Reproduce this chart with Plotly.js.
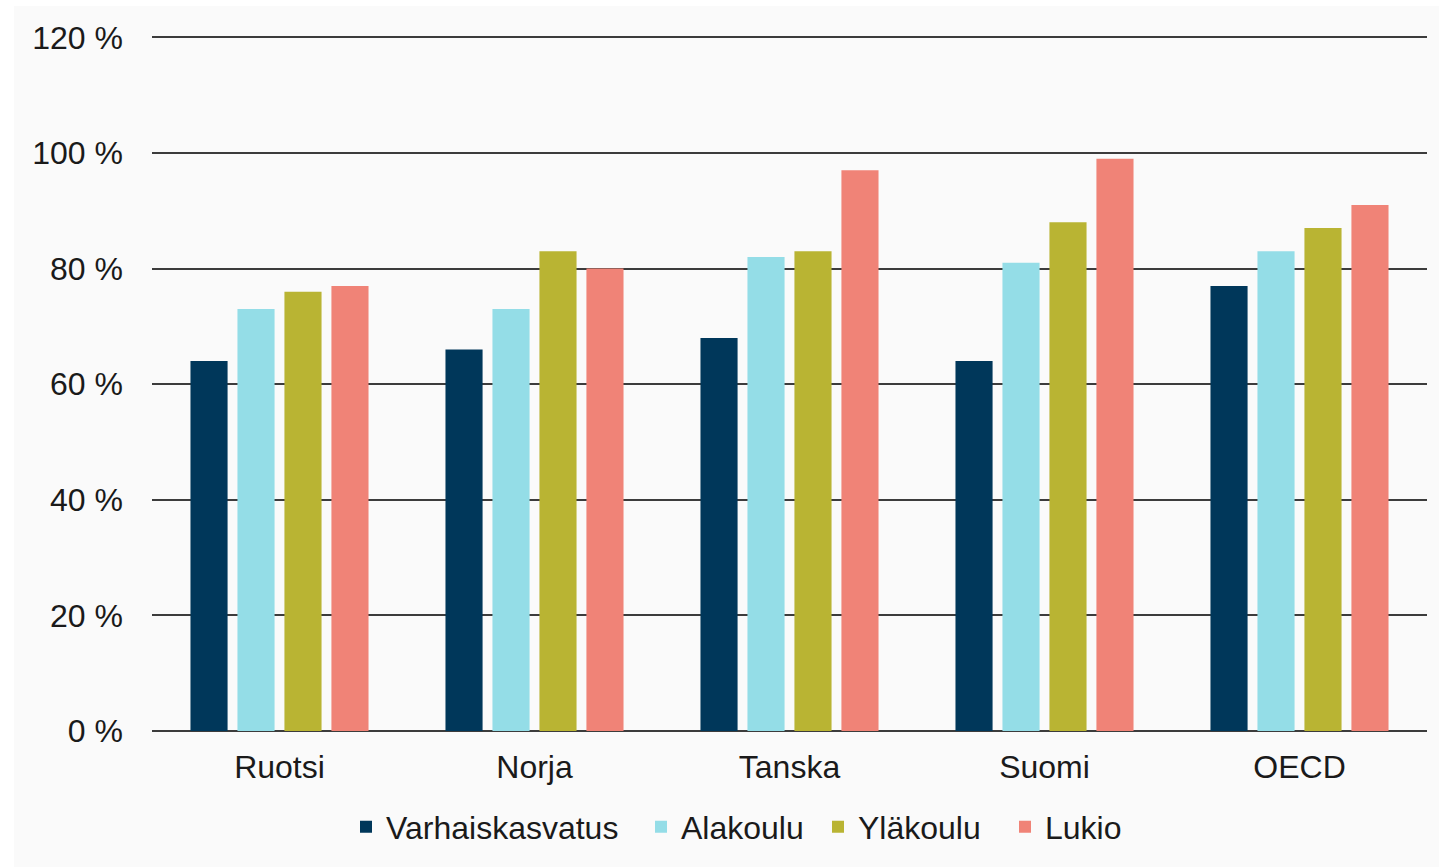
<!DOCTYPE html>
<html>
<head>
<meta charset="utf-8">
<script src="https://cdn.plot.ly/plotly-3.0.1.min.js"></script>
<style>
html,body{margin:0;padding:0;background:#ffffff;width:1439px;height:867px;overflow:hidden;}
#chart{position:absolute;left:14px;top:6px;width:1425px;height:861px;background:#fafafa;}
</style>
</head>
<body>
<div id="chart"></div>
<script>
const categories = ["Ruotsi", "Norja", "Tanska", "Suomi", "OECD"];
const seriesNames = ["Varhaiskasvatus", "Alakoulu", "Yläkoulu", "Lukio"];
const varhaiskasvatus = [64, 66, 68, 64, 77];
const alakoulu = [73, 73, 82, 81, 83];
const ylakoulu = [76, 83, 83, 88, 87];
const lukio = [77, 80, 97, 99, 91];
const yTickValues = [0, 20, 40, 60, 80, 100, 120];
const yTickLabels = ["0 %", "20 %", "40 %", "60 %", "80 %", "100 %", "120 %"];
const colors = ["#00375A", "#94DDE7", "#B9B433", "#F08377"];

const seriesValues = [varhaiskasvatus, alakoulu, ylakoulu, lukio];
const legendIds = ["legend", "legend2", "legend3", "legend4"];
const traces = seriesNames.map((name, i) => ({
  type: "bar",
  name: name,
  x: categories,
  y: seriesValues[i],
  marker: {color: colors[i]},
  legend: legendIds[i],
  hoverinfo: "x+y+name"
}));

const font = {family: "Liberation Sans, Arial, sans-serif", size: 32, color: "#1a1a1a"};

const offsetX = 14;
const plotLeft = 138, plotWidth = 1275;
const legendStarts = [346, 641, 818, 1005];

const layout = {
  width: 1425,
  height: 861,
  margin: {l: plotLeft, r: 12, t: 29, b: 136},
  paper_bgcolor: "rgba(0,0,0,0)",
  plot_bgcolor: "rgba(0,0,0,0)",
  font: font,
  showlegend: true,
  barmode: "group",
  bargap: 0.263,
  bargroupgap: 0.21,
  xaxis: {
    type: "category",
    showgrid: false,
    showline: false,
    zeroline: false,
    ticks: "",
    tickfont: font,
    ticklabelstandoff: 14,
    fixedrange: true
  },
  yaxis: {
    range: [0, 120.4],
    tickvals: yTickValues,
    ticktext: yTickLabels,
    showgrid: true,
    gridcolor: "#3c3c3c",
    gridwidth: 2,
    zeroline: true,
    zerolinecolor: "#3c3c3c",
    zerolinewidth: 2,
    showline: false,
    ticks: "",
    tickfont: font,
    ticklabelstandoff: 28,
    fixedrange: true
  }
};

legendIds.forEach((id, i) => {
  layout[id] = {
    orientation: "h",
    x: (legendStarts[i] - offsetX - plotLeft) / plotWidth,
    xanchor: "left",
    y: -0.138,
    yanchor: "middle",
    font: font,
    bgcolor: "rgba(0,0,0,0)",
    itemwidth: 30
  };
});

Plotly.newPlot("chart", traces, layout, {displayModeBar: false, staticPlot: true});
</script>
</body>
</html>
